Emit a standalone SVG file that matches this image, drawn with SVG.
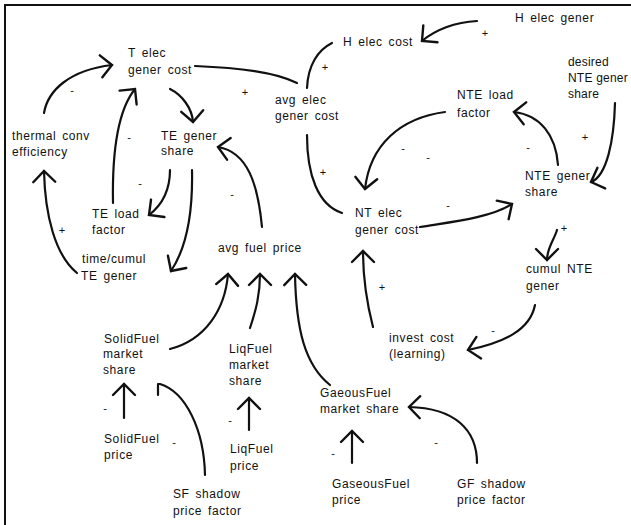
<svg xmlns="http://www.w3.org/2000/svg" width="631" height="525" viewBox="0 0 631 525">
  <style>
    .lbl { font-family: "Liberation Sans", Arial, Helvetica, sans-serif; font-size: 12px; letter-spacing: 0.6px; word-spacing: 2px; fill: #111; }
    .tight { letter-spacing: 0.2px; word-spacing: 0; }
    .sign { font-family: "Liberation Sans", Arial, Helvetica, sans-serif; font-size: 11px; fill: #111; text-anchor: middle; }
    .link { fill: none; stroke: #111; stroke-width: 2.2; stroke-linecap: round; stroke-linejoin: round; }
    .frame { stroke: #111; stroke-width: 2; fill: none; }
  </style>
  <defs>
    <marker id="vhead" markerUnits="userSpaceOnUse" markerWidth="30" markerHeight="30" viewBox="-15 -15 30 30" refX="0" refY="0" orient="auto" overflow="visible">
      <path d="M-11,-11 L0,0 L-11,11" fill="none" stroke="#111" stroke-width="2.4" stroke-linecap="round" stroke-linejoin="miter"/>
    </marker>
  </defs>
  <rect width="631" height="525" fill="#fff"/>

  <!-- page frame (top and left edges only) -->
  <path class="frame" d="M5,525 L5,5 L631,5"/>

  <!-- connectors -->
  <g id="connectors">
    <path class="link" marker-end="url(#vhead)" d="M44,113 C48,90 70,70 112,65"/>
    <path class="link" marker-end="url(#vhead)" d="M113,203 C112,150 118,110 135,89"/>
    <path class="link" marker-end="url(#vhead)" d="M170,89 C182,95 192,108 193,122"/>
    <path class="link" d="M195,66 C240,68 275,72 297,83"/>
    <path class="link" d="M332,43 C318,50 308,65 307,88"/>
    <path class="link" marker-end="url(#vhead)" d="M477,21 C455,22 435,30 422,41"/>
    <path class="link" d="M307,135 C307,175 318,205 342,213"/>
    <path class="link" marker-end="url(#vhead)" d="M445,112 C400,118 370,145 365,189"/>
    <path class="link" marker-end="url(#vhead)" d="M558,165 C556,135 540,115 514,112"/>
    <path class="link" marker-end="url(#vhead)" d="M615,103 C614,140 607,176 591,182"/>
    <path class="link" marker-end="url(#vhead)" d="M420,227 C450,222 490,218 512,204"/>
    <path class="link" marker-end="url(#vhead)" d="M557,230 C554,240 547,248 547,260"/>
    <path class="link" marker-end="url(#vhead)" d="M535,305 C530,330 505,342 468,350"/>
    <path class="link" marker-end="url(#vhead)" d="M373,327 C366,300 363,275 363,251"/>
    <path class="link" marker-end="url(#vhead)" d="M262,227 C258,185 248,152 218,147"/>
    <path class="link" marker-end="url(#vhead)" d="M170,170 C170,190 162,205 149,215"/>
    <path class="link" marker-end="url(#vhead)" d="M192,170 C193,215 185,250 171,271"/>
    <path class="link" marker-end="url(#vhead)" d="M77,273 C55,255 45,215 44,171"/>
    <path class="link" marker-end="url(#vhead)" d="M170,349 C205,340 225,310 228,274"/>
    <path class="link" marker-end="url(#vhead)" d="M250,328 C256,310 260,295 260,274"/>
    <path class="link" marker-end="url(#vhead)" d="M330,385 C305,365 296,330 295,274"/>
    <path class="link" marker-end="url(#vhead)" d="M124,418 L124,384"/>
    <path class="link" d="M205,475 C204,430 186,392 160,384 L158,384 L158,395"/>
    <path class="link" marker-end="url(#vhead)" d="M249,430 L249,398"/>
    <path class="link" marker-end="url(#vhead)" d="M352,463 L352,431"/>
    <path class="link" marker-end="url(#vhead)" d="M477,463 C477,430 455,408 409,407"/>
  </g>

  <!-- polarity signs -->
  <g id="signs">
    <text class="sign" x="485" y="37">+</text>
    <text class="sign" x="325" y="71">+</text>
    <text class="sign" x="585" y="141">+</text>
    <text class="sign" x="323" y="176">+</text>
    <text class="sign" x="564" y="232">+</text>
    <text class="sign" x="382" y="291">+</text>
    <text class="sign" x="245" y="96">+</text>
    <text class="sign" x="62" y="234">+</text>
    <text class="sign" x="72" y="94">-</text>
    <text class="sign" x="129" y="141">-</text>
    <text class="sign" x="140" y="187">-</text>
    <text class="sign" x="232" y="198">-</text>
    <text class="sign" x="403" y="152">-</text>
    <text class="sign" x="428" y="161">-</text>
    <text class="sign" x="528" y="151">-</text>
    <text class="sign" x="448" y="209">-</text>
    <text class="sign" x="493" y="334">-</text>
    <text class="sign" x="105" y="412">-</text>
    <text class="sign" x="174" y="446">-</text>
    <text class="sign" x="230" y="424">-</text>
    <text class="sign" x="333" y="457">-</text>
    <text class="sign" x="436" y="446">-</text>
  </g>

  <!-- nodes -->
  <g id="t-elec-gener-cost"><text class="lbl" x="128" y="57">T elec</text><text class="lbl" x="128" y="74">gener cost</text></g>
  <g id="thermal-conv-efficiency"><text class="lbl" x="12" y="140">thermal conv</text><text class="lbl" x="12" y="156">efficiency</text></g>
  <g id="te-gener-share"><text class="lbl" x="161" y="140">TE gener</text><text class="lbl" x="161" y="155">share</text></g>
  <g id="avg-elec-gener-cost"><text class="lbl" x="275" y="104">avg elec</text><text class="lbl" x="275" y="120">gener cost</text></g>
  <g id="h-elec-gener"><text class="lbl" x="515" y="22">H elec gener</text></g>
  <g id="h-elec-cost"><text class="lbl" x="343" y="46">H elec cost</text></g>
  <g id="desired-nte-gener-share"><text class="lbl tight" x="568" y="66">desired</text><text class="lbl tight" x="568" y="82">NTE gener</text><text class="lbl tight" x="568" y="98">share</text></g>
  <g id="nte-load-factor"><text class="lbl" x="457" y="99">NTE load</text><text class="lbl" x="457" y="117">factor</text></g>
  <g id="nte-gener-share"><text class="lbl" x="525" y="180">NTE gener</text><text class="lbl" x="525" y="196">share</text></g>
  <g id="nt-elec-gener-cost"><text class="lbl" x="355" y="217">NT elec</text><text class="lbl" x="355" y="234">gener cost</text></g>
  <g id="cumul-nte-gener"><text class="lbl" x="526" y="273">cumul NTE</text><text class="lbl" x="526" y="290">gener</text></g>
  <g id="invest-cost"><text class="lbl" x="389" y="342">invest cost</text><text class="lbl" x="389" y="358">(learning)</text></g>
  <g id="te-load-factor"><text class="lbl" x="92" y="218">TE load</text><text class="lbl" x="92" y="234">factor</text></g>
  <g id="time-cumul-te-gener"><text class="lbl" x="82" y="263">time/cumul</text><text class="lbl" x="81" y="280">TE gener</text></g>
  <g id="avg-fuel-price"><text class="lbl" x="218" y="252">avg fuel price</text></g>
  <g id="solidfuel-market-share"><text class="lbl" x="104" y="343">SolidFuel</text><text class="lbl" x="103" y="358">market</text><text class="lbl" x="103" y="374">share</text></g>
  <g id="liqfuel-market-share"><text class="lbl" x="229" y="353">LiqFuel</text><text class="lbl" x="229" y="369">market</text><text class="lbl" x="229" y="385">share</text></g>
  <g id="gaseousfuel-market-share"><text class="lbl" x="320" y="397">GaeousFuel</text><text class="lbl" x="320" y="413">market share</text></g>
  <g id="solidfuel-price"><text class="lbl" x="104" y="443">SolidFuel</text><text class="lbl" x="104" y="459">price</text></g>
  <g id="liqfuel-price"><text class="lbl" x="230" y="453">LiqFuel</text><text class="lbl" x="230" y="470">price</text></g>
  <g id="sf-shadow-price-factor"><text class="lbl" x="173" y="498">SF shadow</text><text class="lbl" x="173" y="515">price factor</text></g>
  <g id="gaseousfuel-price"><text class="lbl" x="332" y="488">GaseousFuel</text><text class="lbl" x="332" y="504">price</text></g>
  <g id="gf-shadow-price-factor"><text class="lbl" x="457" y="488">GF shadow</text><text class="lbl" x="457" y="504">price factor</text></g>
</svg>
